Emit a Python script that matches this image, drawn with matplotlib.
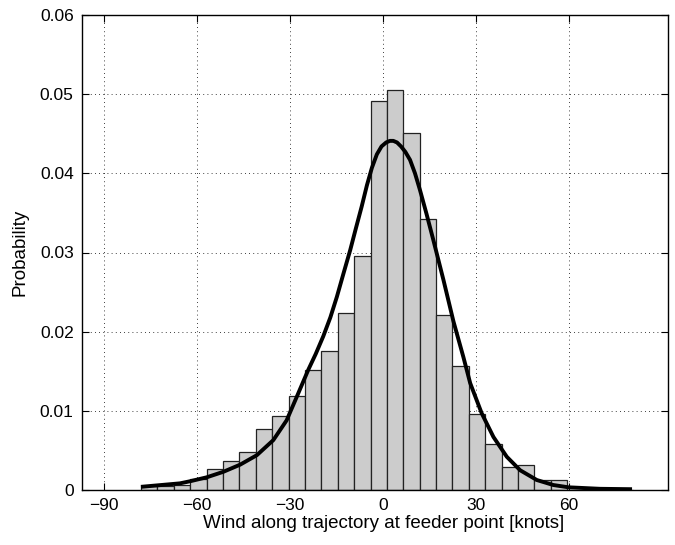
import numpy as np
import matplotlib
matplotlib.use("Agg")
import matplotlib.pyplot as plt

plt.rcParams['font.family'] = ['Liberation Sans', 'DejaVu Sans']

# Histogram: bin range and heights (probability)
bin_lo, bin_hi = -78.06, 80.55
bar_heights = [0.0005, 0.0005, 0.0006, 0.0014, 0.0027, 0.0037, 0.0048, 0.0077,
               0.0093, 0.0119, 0.0152, 0.0175, 0.0224, 0.0296, 0.0491, 0.0505,
               0.0451, 0.0342, 0.0221, 0.0157, 0.0096, 0.0058, 0.0029, 0.0031,
               0.0013, 0.0013, 0.0, 0.0, 0.0, 0.0]

# Fitted curve
curve_x = [-78.1, -65.5, -62.3, -56.9, -51.5, -46.1, -40.7, -35.4, -31.1, -27.8,
           -24.1, -21.7, -19.3, -17.0, -14.9, -12.8, -10.6, -8.8, -6.9, -5.2, -3.6,
           -2.0, -0.5, 1.0, 2.2, 3.3, 4.5, 5.8, 7.2, 8.7, 10.3, 11.9, 14.0,
           16.2, 19.5, 22.7, 25.9, 28.1, 31.8, 35.6, 39.9, 44.2, 49.6,
           54.9, 59.8, 70.0, 80.3]
curve_y = [0.0004, 0.00084, 0.0011, 0.0016, 0.0023, 0.0032, 0.0044, 0.0063, 0.0088, 0.0118,
           0.0152, 0.0172, 0.0194, 0.0218, 0.0244, 0.0273, 0.0303, 0.0330, 0.0358, 0.0385, 0.0407,
           0.0424, 0.0434, 0.0439, 0.0441, 0.0441, 0.0439, 0.0434, 0.0427, 0.0417, 0.0400, 0.0379, 0.0349,
           0.0316, 0.0265, 0.0213, 0.0168, 0.0135, 0.0097, 0.0067, 0.0042, 0.0025, 0.00126,
           0.00063, 0.00034, 0.00015, 0.0001]

x_ticks = [-90, -60, -30, 0, 30, 60]
y_ticks = [0, 0.01, 0.02, 0.03, 0.04, 0.05, 0.06]
y_ticklabels = ['0', '0.01', '0.02', '0.03', '0.04', '0.05', '0.06']

fig = plt.figure(figsize=(6.75, 5.45), dpi=100)
ax = fig.add_axes([82/675, 55/545, 586/675, 475/545])

edges = np.linspace(bin_lo, bin_hi, len(bar_heights) + 1)
ax.bar(edges[:-1], bar_heights, width=np.diff(edges), align='edge',
       color='#cccccc', edgecolor='#222222', linewidth=0.9, zorder=2)
ax.plot(curve_x, curve_y, color='black', linewidth=2.8, zorder=3,
        solid_joinstyle='round', solid_capstyle='butt')

ax.set_xlim(-97.1, 91.9)
ax.set_ylim(0, 0.06)
ax.set_xticks(x_ticks)
ax.set_xticklabels([str(v).replace('-', '\u2212') for v in x_ticks])
ax.set_yticks(y_ticks)
ax.set_yticklabels(y_ticklabels)

ax.grid(True, linestyle=(0, (1, 4)), color='black', linewidth=0.6)
ax.set_axisbelow(True)
ax.tick_params(direction='in', top=True, right=True, labelsize=12.5, length=5, width=0.8, pad=6)
for s in ax.spines.values():
    s.set_linewidth(1.0)
    s.set_zorder(5)

ax.set_xlabel('Wind along trajectory at feeder point [knots]', fontsize=13.5)
ax.xaxis.set_label_coords(0.515, -0.053, transform=ax.transAxes)
ax.xaxis.label.set_va('top')
ax.set_ylabel('Probability', fontsize=13.5, labelpad=8)

fig.savefig('out.png', dpi=100)
